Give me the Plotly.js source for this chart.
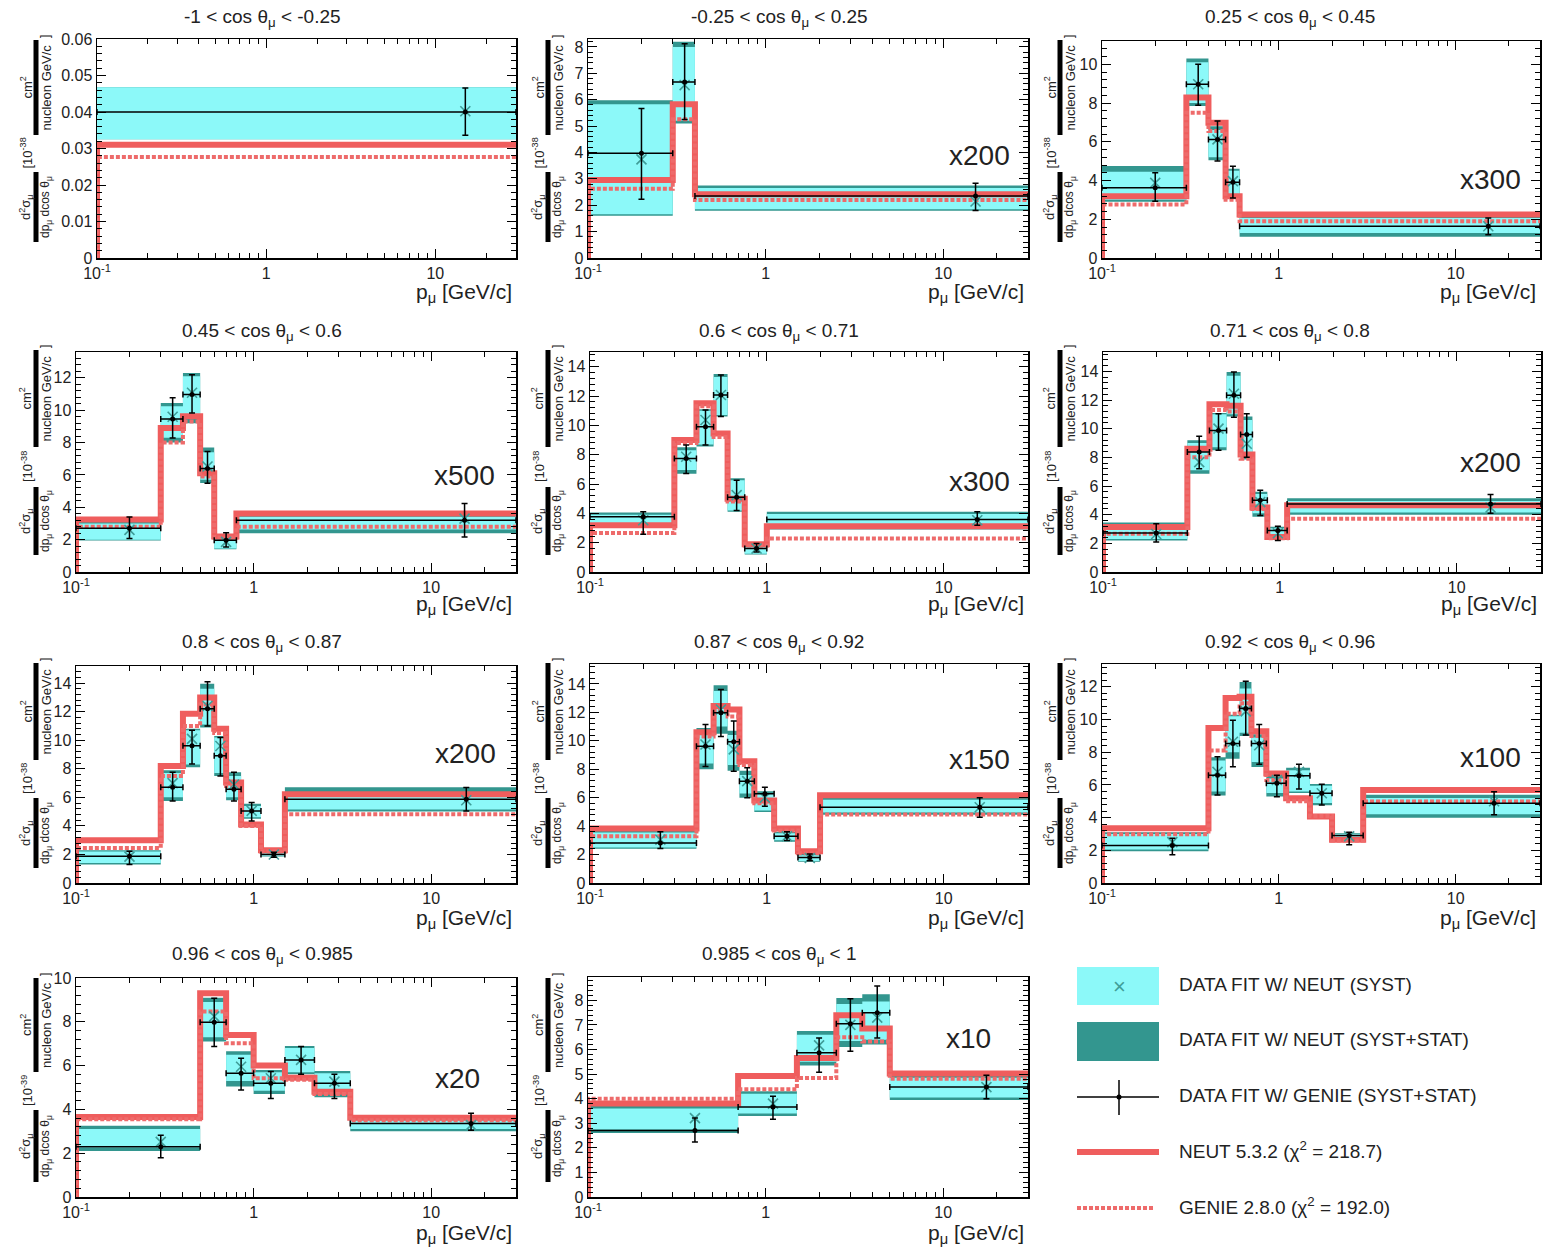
<!DOCTYPE html>
<html>
<head>
<meta charset="utf-8">
<script src="https://cdn.plot.ly/plotly-3.0.1.min.js"></script>
<style>html,body{margin:0;padding:0;background:#fff}</style>
</head>
<body>
<div id="chart" style="width:1548px;height:1248px"></div>
<script>
// cos(theta_mu) slice boundaries, one panel per slice
const cosEdges = [-1, -0.25, 0.25, 0.45, 0.6, 0.71, 0.8, 0.87, 0.92, 0.96, 0.985, 1];
// multiplier applied to each slice for display
const scaleFactors = [1, 200, 300, 500, 300, 200, 200, 150, 100, 20, 10];
// power of ten of the cross-section unit per slice
const unitExp = [38, 38, 38, 38, 38, 38, 38, 38, 38, 39, 39];
// y-axis upper limit and major tick step per slice
const yTop = [0.06, 8.3, 11.2, 13.6, 15.0, 15.35, 15.2, 15.4, 13.4, 10.0, 8.95];
const yStep = [0.01, 1, 2, 2, 2, 2, 2, 2, 2, 2, 1];

// muon momentum bin edges [GeV/c] per slice
const pEdges = [
  [0.1, 30],
  [0.1, 0.3, 0.4, 30],
  [0.1, 0.3, 0.4, 0.5, 0.6, 30],
  [0.1, 0.3, 0.4, 0.5, 0.6, 0.8, 30],
  [0.1, 0.3, 0.4, 0.5, 0.6, 0.75, 1.0, 30],
  [0.1, 0.3, 0.4, 0.5, 0.6, 0.7, 0.85, 1.1, 30],
  [0.1, 0.3, 0.4, 0.5, 0.6, 0.7, 0.85, 1.1, 1.5, 30],
  [0.1, 0.4, 0.5, 0.6, 0.7, 0.85, 1.1, 1.5, 2.0, 30],
  [0.1, 0.4, 0.5, 0.6, 0.7, 0.85, 1.1, 1.5, 2.0, 3.0, 30],
  [0.1, 0.5, 0.7, 1.0, 1.5, 2.2, 3.5, 30],
  [0.1, 0.7, 1.5, 2.5, 3.5, 5.0, 30]
];

// NEUT 5.3.2 prediction
const neutMC = [
  [0.031],
  [2.96, 5.83, 2.42],
  [3.19, 8.28, 6.98, 3.19, 2.24],
  [3.25, 8.9, 9.63, 6.1, 2.2, 3.62],
  [3.18, 9.0, 11.5, 9.45, 5.0, 1.9, 3.12],
  [3.14, 8.6, 11.7, 11.6, 8.2, 4.5, 2.45, 4.65],
  [3.0, 8.2, 11.85, 13.0, 10.8, 7.04, 4.1, 2.3, 6.22],
  [3.83, 10.6, 12.44, 12.2, 8.57, 5.8, 3.83, 2.23, 6.17],
  [3.35, 9.49, 11.32, 11.4, 9.29, 6.7, 5.18, 4.07, 2.64, 5.69],
  [3.65, 9.3, 7.4, 6.0, 5.45, 4.81, 3.62],
  [3.8, 4.92, 5.65, 7.39, 6.85, 5.02]
];

// GENIE 2.8.0 prediction
const genieMC = [
  [0.0277],
  [2.62, 5.26, 2.2],
  [2.76, 7.5, 6.55, 3.0, 1.9],
  [2.8, 8.0, 9.3, 5.9, 2.13, 2.8],
  [2.66, 8.8, 11.3, 9.2, 4.8, 1.8, 2.28],
  [2.67, 8.0, 11.3, 11.2, 7.9, 4.4, 2.35, 3.72],
  [2.46, 7.5, 11.0, 12.5, 10.5, 6.8, 4.0, 2.2, 4.81],
  [3.29, 10.3, 12.1, 11.7, 8.3, 5.6, 3.7, 2.1, 4.81],
  [2.99, 8.1, 10.36, 11.0, 9.0, 6.3, 5.0, 4.1, 2.6, 4.98],
  [3.55, 8.47, 7.02, 5.42, 5.35, 4.7, 3.5],
  [4.0, 4.38, 4.84, 6.5, 6.33, 4.81]
];

// data fit with NEUT: central value
const neutFit = [
  [0.0402],
  [3.74, 6.55, 2.14],
  [3.88, 8.97, 6.12, 3.97, 1.64],
  [2.6, 9.6, 11.08, 6.52, 1.86, 3.3],
  [3.53, 7.86, 10.36, 12.07, 5.24, 1.6, 3.53],
  [2.65, 7.67, 10.0, 12.44, 8.95, 4.88, 2.7, 4.5],
  [1.85, 7.0, 10.1, 12.4, 9.6, 6.9, 5.05, 2.0, 5.8],
  [3.05, 9.74, 12.2, 9.4, 7.16, 6.0, 3.29, 1.76, 5.33],
  [2.5, 6.8, 8.64, 10.5, 8.43, 6.3, 6.8, 5.49, 2.85, 5.0],
  [2.52, 8.25, 5.95, 5.42, 6.26, 5.27, 3.28],
  [3.21, 3.8, 6.17, 7.0, 7.3, 4.47]
];

// data fit with NEUT: systematic band
const systLo = [
  [0.0325],
  [1.66, 5.2, 1.85],
  [3.0, 8.0, 5.2, 3.2, 1.29],
  [2.0, 8.3, 9.5, 5.7, 1.45, 2.63],
  [3.3, 6.95, 8.7, 10.7, 4.2, 1.25, 3.0],
  [2.3, 7.1, 8.7, 11.0, 8.1, 4.1, 2.4, 4.15],
  [1.4, 6.0, 8.3, 11.1, 7.7, 6.0, 4.6, 1.9, 5.15],
  [2.5, 8.4, 11.0, 8.3, 6.3, 5.1, 3.0, 1.55, 4.95],
  [2.05, 5.6, 8.0, 9.2, 7.4, 5.5, 5.6, 4.9, 2.6, 4.2],
  [2.25, 7.3, 5.3, 4.85, 5.7, 4.7, 3.1],
  [2.75, 3.4, 5.5, 6.35, 6.4, 4.05]
];
const systHi = [
  [0.0468],
  [5.83, 8.0, 2.65],
  [4.45, 10.1, 6.6, 4.5, 2.07],
  [3.0, 10.25, 12.1, 7.4, 2.17, 3.42],
  [3.9, 8.3, 11.0, 13.3, 6.25, 1.82, 3.95],
  [3.35, 9.0, 11.0, 13.7, 10.6, 5.45, 3.05, 4.95],
  [2.2, 7.7, 10.7, 13.6, 10.2, 7.5, 5.4, 2.2, 6.2],
  [3.55, 10.6, 13.5, 10.4, 7.6, 6.3, 3.5, 1.95, 5.85],
  [3.0, 7.5, 10.2, 11.9, 8.9, 6.4, 6.9, 5.95, 3.0, 5.2],
  [3.1, 8.9, 6.5, 5.7, 6.8, 5.65, 3.5],
  [3.6, 4.2, 6.6, 7.85, 7.95, 4.85]
];

// data fit with NEUT: systematic + statistical band
const totLo = [
  [0.0325],
  [1.6, 5.1, 1.79],
  [2.9, 7.85, 5.05, 3.1, 1.1],
  [1.95, 8.0, 9.2, 5.5, 1.4, 2.4],
  [3.2, 6.7, 8.55, 10.6, 4.1, 1.2, 2.9],
  [2.2, 6.85, 8.5, 10.85, 7.85, 3.85, 2.3, 4.0],
  [1.3, 5.75, 8.1, 10.9, 7.5, 5.8, 4.5, 1.85, 5.0],
  [2.4, 8.0, 10.5, 7.9, 6.0, 5.0, 2.9, 1.5, 4.8],
  [1.95, 5.35, 7.6, 9.0, 7.1, 5.3, 5.5, 4.75, 2.55, 4.0],
  [2.1, 7.1, 5.05, 4.7, 5.6, 4.55, 3.0],
  [2.6, 3.3, 5.35, 6.1, 6.2, 3.95]
];
const totHi = [
  [0.0468],
  [5.98, 8.2, 2.75],
  [4.75, 10.3, 6.8, 4.6, 2.25],
  [3.1, 10.45, 12.3, 7.7, 2.25, 3.5],
  [4.05, 8.5, 11.1, 13.5, 6.4, 1.9, 4.1],
  [3.45, 9.2, 11.1, 13.95, 10.85, 5.6, 3.15, 5.15],
  [2.3, 7.9, 10.8, 13.95, 10.3, 7.75, 5.55, 2.25, 6.7],
  [3.65, 10.9, 13.9, 10.7, 7.9, 6.45, 3.6, 2.05, 6.0],
  [3.1, 7.7, 10.3, 12.3, 9.1, 6.6, 7.05, 6.05, 3.05, 5.4],
  [3.25, 9.1, 6.65, 5.8, 6.9, 5.75, 3.6],
  [3.7, 4.3, 6.75, 8.1, 8.25, 4.95]
];

// data fit with GENIE: central value and total uncertainty
const genieFit = [
  [0.040],
  [3.97, 6.67, 2.35],
  [3.62, 8.97, 6.12, 3.91, 1.64],
  [2.7, 9.46, 10.97, 6.4, 1.97, 3.2],
  [3.76, 7.74, 9.9, 12.07, 5.1, 1.6, 3.58],
  [2.72, 8.37, 9.88, 12.33, 9.6, 5.0, 2.9, 4.75],
  [1.88, 6.7, 9.62, 12.2, 8.92, 6.57, 5.05, 2.0, 5.87],
  [2.82, 9.62, 11.97, 9.93, 7.16, 6.27, 3.29, 1.8, 5.33],
  [2.3, 6.6, 8.54, 10.67, 8.54, 6.1, 6.56, 5.49, 2.9, 4.88],
  [2.29, 7.98, 5.65, 5.19, 6.26, 5.19, 3.36],
  [2.71, 3.66, 5.87, 7.05, 7.5, 4.47]
];
const genieLo = [
  [0.0336],
  [2.23, 5.25, 1.8],
  [2.93, 7.88, 5.0, 3.1, 1.2],
  [2.07, 8.28, 9.83, 5.49, 1.55, 2.17],
  [2.57, 6.72, 8.66, 10.6, 4.2, 1.37, 3.19],
  [2.09, 7.2, 8.49, 10.8, 8.0, 3.95, 2.2, 4.1],
  [1.29, 5.75, 8.33, 11.0, 7.5, 5.75, 4.34, 1.8, 5.05],
  [2.42, 8.2, 10.3, 7.86, 6.0, 5.4, 2.98, 1.57, 4.62],
  [1.73, 5.39, 7.11, 9.05, 7.26, 5.28, 5.75, 4.78, 2.34, 4.17],
  [1.79, 6.87, 4.89, 4.5, 5.6, 4.5, 3.05],
  [2.24, 3.16, 5.08, 5.93, 6.47, 4.0]
];
const genieHi = [
  [0.0466],
  [5.67, 8.12, 2.83],
  [4.4, 10.0, 7.07, 4.74, 2.07],
  [3.4, 10.77, 12.2, 7.45, 2.42, 4.24],
  [4.1, 8.66, 11.05, 13.44, 6.26, 1.94, 4.1],
  [3.37, 9.47, 11.05, 13.95, 11.05, 5.7, 3.19, 5.4],
  [2.23, 7.75, 10.7, 14.1, 10.2, 7.75, 5.63, 2.15, 6.69],
  [3.6, 11.15, 13.6, 11.4, 8.1, 6.74, 3.6, 2.04, 5.99],
  [2.74, 7.72, 9.96, 12.34, 9.7, 6.6, 7.26, 6.04, 3.1, 5.59],
  [2.82, 9.08, 6.34, 5.73, 6.87, 5.6, 3.82],
  [3.21, 4.1, 6.47, 8.07, 8.58, 4.95]
];

// legend entries
const legendLabels = [
  'DATA FIT W/ NEUT (SYST)',
  'DATA FIT W/ NEUT (SYST+STAT)',
  'DATA FIT W/ GENIE (SYST+STAT)',
  'NEUT 5.3.2 (χ<sup>2</sup> = 218.7)',
  'GENIE 2.8.0 (χ<sup>2</sup> = 192.0)'
];

// ---------------------------------------------------------------- layout geometry (pixels)
const W = 1548, H = 1248;
const px = x => x / W;
const py = y => 1 - y / H;
const FONT = 'Liberation Sans, Arial, Helvetica, sans-serif';
const TXT = '#222';

const C_SYST = '#8cf9f9';
const C_TOT = '#33968f';
const C_X = '#3f9d98';
const C_RED = '#ef5d5d';
const C_RED2 = '#ee6b6b';

// frame of each panel: [left, top, right, bottom]
const frames = [
  [97, 39, 516, 258], [588, 39, 1028, 258], [1102, 41, 1540, 258],
  [76, 352, 516, 572], [590, 352, 1028, 572], [1103, 352, 1541, 572],
  [76, 666, 516, 883], [590, 664, 1028, 883], [1102, 664, 1540, 883],
  [76, 978, 516, 1197], [588, 977, 1028, 1197]
];
const colCenter = [262, 779, 1290];
const rowTitleY = [18, 332, 643, 955];
const rowXTitleY = [293, 605, 919, 1234];
const colBarX = [36, 548, 1060];
const rowBars = [[40, 135, 172, 242], [350, 447, 487, 555], [663, 760, 798, 868], [978, 1072, 1110, 1182]];
// multiplier label anchor: [right px, center py]
const scaleAnchor = [null, [1012, 155], [1523, 180], [497, 475], [1012, 482], [1523, 462],
                     [498, 753], [1012, 760], [1523, 757], [482, 1078], [993, 1038]];

const minorX = [0.2, 0.3, 0.4, 0.5, 0.6, 0.7, 0.8, 0.9, 2, 3, 4, 5, 6, 7, 8, 9, 20];

function boxPath(e, lo, hi) {
  const xs = [], ys = [];
  for (let k = 0; k < lo.length; k++) {
    xs.push(e[k], e[k + 1], e[k + 1], e[k], e[k], null);
    ys.push(lo[k], lo[k], hi[k], hi[k], lo[k], null);
  }
  return { x: xs, y: ys };
}
function stepPath(e, v) {
  const xs = [e[0]], ys = [0];
  for (let k = 0; k < v.length; k++) { xs.push(e[k]); ys.push(v[k]); }
  xs.push(e[e.length - 1]); ys.push(v[v.length - 1]);
  return { x: xs, y: ys };
}
function centers(e) {
  const c = [];
  for (let k = 0; k < e.length - 1; k++) c.push((e[k] + e[k + 1]) / 2);
  return c;
}

const traces = [];
const layout = {
  width: W, height: H,
  margin: { l: 0, r: 0, t: 0, b: 0 },
  paper_bgcolor: '#fff', plot_bgcolor: '#fff',
  showlegend: false,
  font: { family: FONT, color: TXT },
  annotations: [], shapes: []
};

function ann(o) {
  layout.annotations.push(Object.assign({
    xref: 'paper', yref: 'paper', showarrow: false,
    xanchor: 'center', yanchor: 'middle',
    font: { family: FONT, size: 14, color: TXT }
  }, o));
}

for (let i = 0; i < pEdges.length; i++) {
  const s = i === 0 ? '' : String(i + 1);
  const xa = 'x' + s, ya = 'y' + s;
  const e = pEdges[i];
  const xc = centers(e);
  const [L, T, R, B] = frames[i];
  const col = i % 3, row = Math.floor(i / 3);

  const tb = boxPath(e, totLo[i], totHi[i]);
  traces.push({ type: 'scatter', mode: 'lines', x: tb.x, y: tb.y, xaxis: xa, yaxis: ya,
    fill: 'toself', fillcolor: C_TOT, line: { width: 0, color: C_TOT }, hoverinfo: 'skip' });
  const sb = boxPath(e, systLo[i], systHi[i]);
  traces.push({ type: 'scatter', mode: 'lines', x: sb.x, y: sb.y, xaxis: xa, yaxis: ya,
    fill: 'toself', fillcolor: C_SYST, line: { width: 0, color: C_SYST }, hoverinfo: 'skip' });

  const nm = stepPath(e, neutMC[i]);
  traces.push({ type: 'scatter', mode: 'lines', x: nm.x, y: nm.y, xaxis: xa, yaxis: ya,
    line: { shape: 'hv', color: C_RED, width: 6 } });
  const gm = stepPath(e, genieMC[i]);
  traces.push({ type: 'scatter', mode: 'lines', x: gm.x, y: gm.y, xaxis: xa, yaxis: ya,
    line: { shape: 'hv', color: C_RED2, width: 4, dash: '4px,2px' } });

  traces.push({ type: 'scatter', mode: 'markers', x: xc, y: neutFit[i], xaxis: xa, yaxis: ya,
    marker: { symbol: 'x-thin-open', size: 10, color: C_X, line: { color: C_X, width: 1.6 } } });

  traces.push({ type: 'scatter', mode: 'markers', x: xc, y: genieFit[i], xaxis: xa, yaxis: ya,
    marker: { symbol: 'circle', size: 5, color: '#000' },
    error_y: { type: 'data', symmetric: false,
      array: genieHi[i].map((h, k) => h - genieFit[i][k]),
      arrayminus: genieLo[i].map((l, k) => genieFit[i][k] - l),
      color: '#000', thickness: 1.5, width: 3 },
    error_x: { type: 'data', symmetric: false,
      array: xc.map((c, k) => e[k + 1] - c),
      arrayminus: xc.map((c, k) => c - e[k]),
      color: '#000', thickness: 1.5, width: 3 } });

  layout['xaxis' + s] = {
    domain: [px(L), px(R)], anchor: ya, type: 'log', range: [-1, Math.log10(30)],
    tickmode: 'array', tickvals: [0.1, 1, 10], ticktext: ['10<sup>-1</sup>', '1', '10'],
    ticks: 'inside', ticklen: 9, tickwidth: 1, tickcolor: '#000',
    minor: { tickmode: 'array', tickvals: minorX, ticks: 'inside', ticklen: 5, tickwidth: 1, tickcolor: '#000' },
    showline: true, linecolor: '#000', linewidth: 1.5, mirror: 'ticks',
    showgrid: false, zeroline: false,
    tickfont: { family: FONT, size: 16, color: TXT }
  };
  layout['yaxis' + s] = {
    domain: [py(B), py(T)], anchor: xa, range: [0, yTop[i]],
    tickmode: 'linear', tick0: 0, dtick: yStep[i],
    ticks: 'inside', ticklen: 9, tickwidth: 1, tickcolor: '#000',
    minor: { dtick: yStep[i] / 5, ticks: 'inside', ticklen: 5, tickwidth: 1, tickcolor: '#000' },
    showline: true, linecolor: '#000', linewidth: 1.5, mirror: 'ticks',
    showgrid: false, zeroline: false,
    tickfont: { family: FONT, size: 16, color: TXT }
  };

  // panel title
  ann({ x: px(colCenter[col]), y: py(rowTitleY[row]),
    text: cosEdges[i] + ' &lt; cos θ<sub>μ</sub> &lt; ' + cosEdges[i + 1],
    font: { family: FONT, size: 19, color: TXT } });

  // x-axis title
  ann({ x: px(R - 2), y: py(rowXTitleY[row]), xanchor: 'right',
    text: 'p<sub>μ</sub> [GeV/c]', font: { family: FONT, size: 21, color: TXT } });

  // multiplier
  if (scaleFactors[i] > 1) {
    const [sx, sy] = scaleAnchor[i];
    ann({ x: px(sx), y: py(sy), xanchor: 'right',
      text: 'x' + scaleFactors[i], font: { family: FONT, size: 28, color: TXT } });
  }

  // y-axis title built as two stacked fractions
  const bx = colBarX[col];
  const [t0, t1, b0, b1] = rowBars[row];
  layout.shapes.push({ type: 'rect', xref: 'paper', yref: 'paper',
    x0: px(bx - 2.5), x1: px(bx + 2.5), y0: py(t1), y1: py(t0), fillcolor: '#000', line: { width: 0 } });
  layout.shapes.push({ type: 'rect', xref: 'paper', yref: 'paper',
    x0: px(bx - 2.5), x1: px(bx + 2.5), y0: py(b1), y1: py(b0), fillcolor: '#000', line: { width: 0 } });
  const rot = { textangle: -90 };
  ann(Object.assign({ x: px(bx - 10), y: py((t0 + t1) / 2), text: 'cm<sup>2</sup>',
    font: { family: FONT, size: 13, color: TXT } }, rot));
  ann(Object.assign({ x: px(bx + 10), y: py((t0 + t1) / 2), text: 'nucleon GeV/c',
    font: { family: FONT, size: 13, color: TXT } }, rot));
  ann(Object.assign({ x: px(bx + 9), y: py(t0 - 3), text: ']',
    font: { family: FONT, size: 12, color: TXT } }, rot));
  ann(Object.assign({ x: px(bx - 9), y: py((t1 + b0) / 2), text: '[10<sup>-' + unitExp[i] + '</sup>',
    font: { family: FONT, size: 13, color: TXT } }, rot));
  ann(Object.assign({ x: px(bx - 10), y: py((b0 + b1) / 2), text: 'd<sup>2</sup>σ<sub>μ</sub>',
    font: { family: FONT, size: 13, color: TXT } }, rot));
  ann(Object.assign({ x: px(bx + 10), y: py((b0 + b1) / 2), text: 'dp<sub>μ</sub> dcos θ<sub>μ</sub>',
    font: { family: FONT, size: 12, color: TXT } }, rot));
}

// ---------------------------------------------------------------- legend
const lgX0 = 1077, lgX1 = 1159, lgText = 1177;
const lgY = [986, 1041, 1097, 1152, 1208];
layout.shapes.push({ type: 'rect', xref: 'paper', yref: 'paper',
  x0: px(lgX0), x1: px(lgX1), y0: py(1005), y1: py(967), fillcolor: C_SYST, line: { width: 0 } });
layout.shapes.push({ type: 'rect', xref: 'paper', yref: 'paper',
  x0: px(lgX0), x1: px(lgX1), y0: py(1061), y1: py(1022), fillcolor: C_TOT, line: { width: 0 } });
layout.shapes.push({ type: 'line', xref: 'paper', yref: 'paper',
  x0: px(lgX0), x1: px(lgX1), y0: py(lgY[2]), y1: py(lgY[2]), line: { color: '#000', width: 1.5 } });
layout.shapes.push({ type: 'line', xref: 'paper', yref: 'paper',
  x0: px(1119), x1: px(1119), y0: py(1080), y1: py(1115), line: { color: '#000', width: 1.5 } });
layout.shapes.push({ type: 'circle', xref: 'paper', yref: 'paper',
  x0: px(1116.5), x1: px(1121.5), y0: py(lgY[2] + 2.5), y1: py(lgY[2] - 2.5), fillcolor: '#000', line: { width: 0 } });
layout.shapes.push({ type: 'line', xref: 'paper', yref: 'paper',
  x0: px(lgX0), x1: px(lgX1), y0: py(lgY[3]), y1: py(lgY[3]), line: { color: C_RED, width: 6 } });
layout.shapes.push({ type: 'line', xref: 'paper', yref: 'paper',
  x0: px(lgX0), x1: px(lgX1 - 4), y0: py(lgY[4]), y1: py(lgY[4]), line: { color: C_RED2, width: 4, dash: '4px,2px' } });
ann({ x: px(1119), y: py(lgY[0]), text: '×', font: { family: FONT, size: 22, color: C_X } });
legendLabels.forEach((t, k) => {
  ann({ x: px(lgText), y: py(lgY[k] - 2), xanchor: 'left', text: t,
    font: { family: FONT, size: 19, color: TXT } });
});

Plotly.newPlot('chart', traces, layout, { staticPlot: true, displayModeBar: false });
</script>
</body>
</html>
